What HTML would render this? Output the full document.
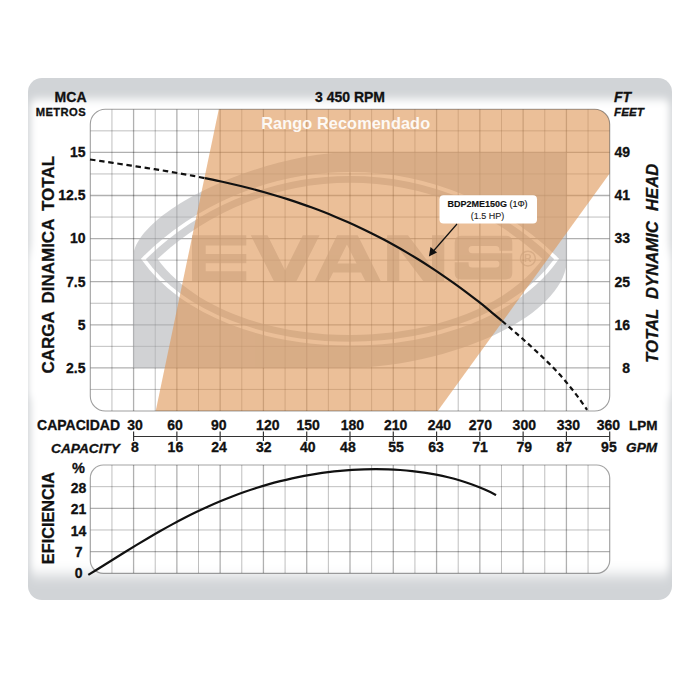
<!DOCTYPE html><html><head><meta charset="utf-8"><style>html,body{margin:0;padding:0;background:#fff;width:700px;height:700px;overflow:hidden}svg{display:block}text{font-family:"Liberation Sans",sans-serif}</style></head><body>
<svg width="700" height="700" viewBox="0 0 700 700">
<defs>
<filter id="glow" x="-10%" y="-20%" width="120%" height="140%"><feGaussianBlur stdDeviation="3.6 4.5"/></filter><filter id="glow2" x="-10%" y="-20%" width="120%" height="140%"><feGaussianBlur stdDeviation="3.6 7"/></filter>
<clipPath id="cp"><rect x="28" y="78" width="644" height="522" rx="14" ry="14"/></clipPath>
<clipPath id="ct"><rect x="90.3" y="109.3" width="519.4" height="301.7" rx="15" ry="15"/></clipPath>
<clipPath id="cb"><rect x="90.3" y="465" width="519.4" height="108.3" rx="13" ry="13"/></clipPath>
</defs>
<rect x="28" y="78" width="644" height="522" rx="14" ry="14" fill="#d1d4d7"/>
<g clip-path="url(#cp)"><rect x="30.5" y="99" width="639" height="300" rx="6" ry="6" fill="#fff" filter="url(#glow)"/><rect x="30.5" y="250" width="639" height="325" rx="6" ry="6" fill="#fff" filter="url(#glow2)"/></g>
<rect x="90.3" y="109.3" width="519.4" height="301.7" rx="15" ry="15" fill="#fff"/>
<g clip-path="url(#ct)">
<mask id="lm" maskUnits="userSpaceOnUse" x="0" y="0" width="700" height="700">
<rect x="0" y="0" width="700" height="700" fill="#fff"/>
<path d="M143.4,259 A293.6,293.6 0 0 1 556.6,259 C476.6,371.7 223.4,371.7 143.4,259 Z" fill="none" stroke="#000" stroke-width="3.8" stroke-linejoin="miter" stroke-miterlimit="20"/>
<path d="M157.5,259 A281.3,281.3 0 0 1 542.5,259 C468,360.3 232,360.3 157.5,259 Z" fill="#000"/>
</mask>
<g><line x1="111.94" y1="109.3" x2="111.94" y2="411" stroke="#000" stroke-opacity="0.25" stroke-width="1"/><line x1="133.58" y1="109.3" x2="133.58" y2="411" stroke="#000" stroke-opacity="0.31" stroke-width="1.3"/><line x1="155.23" y1="109.3" x2="155.23" y2="411" stroke="#000" stroke-opacity="0.25" stroke-width="1"/><line x1="176.87" y1="109.3" x2="176.87" y2="411" stroke="#000" stroke-opacity="0.31" stroke-width="1.3"/><line x1="198.51" y1="109.3" x2="198.51" y2="411" stroke="#000" stroke-opacity="0.25" stroke-width="1"/><line x1="220.15" y1="109.3" x2="220.15" y2="411" stroke="#000" stroke-opacity="0.31" stroke-width="1.3"/><line x1="241.79" y1="109.3" x2="241.79" y2="411" stroke="#000" stroke-opacity="0.25" stroke-width="1"/><line x1="263.43" y1="109.3" x2="263.43" y2="411" stroke="#000" stroke-opacity="0.31" stroke-width="1.3"/><line x1="285.08" y1="109.3" x2="285.08" y2="411" stroke="#000" stroke-opacity="0.25" stroke-width="1"/><line x1="306.72" y1="109.3" x2="306.72" y2="411" stroke="#000" stroke-opacity="0.31" stroke-width="1.3"/><line x1="328.36" y1="109.3" x2="328.36" y2="411" stroke="#000" stroke-opacity="0.25" stroke-width="1"/><line x1="350" y1="109.3" x2="350" y2="411" stroke="#000" stroke-opacity="0.31" stroke-width="1.3"/><line x1="371.64" y1="109.3" x2="371.64" y2="411" stroke="#000" stroke-opacity="0.25" stroke-width="1"/><line x1="393.28" y1="109.3" x2="393.28" y2="411" stroke="#000" stroke-opacity="0.31" stroke-width="1.3"/><line x1="414.93" y1="109.3" x2="414.93" y2="411" stroke="#000" stroke-opacity="0.25" stroke-width="1"/><line x1="436.57" y1="109.3" x2="436.57" y2="411" stroke="#000" stroke-opacity="0.31" stroke-width="1.3"/><line x1="458.21" y1="109.3" x2="458.21" y2="411" stroke="#000" stroke-opacity="0.25" stroke-width="1"/><line x1="479.85" y1="109.3" x2="479.85" y2="411" stroke="#000" stroke-opacity="0.31" stroke-width="1.3"/><line x1="501.49" y1="109.3" x2="501.49" y2="411" stroke="#000" stroke-opacity="0.25" stroke-width="1"/><line x1="523.13" y1="109.3" x2="523.13" y2="411" stroke="#000" stroke-opacity="0.31" stroke-width="1.3"/><line x1="544.78" y1="109.3" x2="544.78" y2="411" stroke="#000" stroke-opacity="0.25" stroke-width="1"/><line x1="566.42" y1="109.3" x2="566.42" y2="411" stroke="#000" stroke-opacity="0.31" stroke-width="1.3"/><line x1="588.06" y1="109.3" x2="588.06" y2="411" stroke="#000" stroke-opacity="0.25" stroke-width="1"/><line x1="90.3" y1="389.45" x2="609.7" y2="389.45" stroke="#000" stroke-opacity="0.25" stroke-width="1"/><line x1="90.3" y1="367.9" x2="609.7" y2="367.9" stroke="#000" stroke-opacity="0.31" stroke-width="1.3"/><line x1="90.3" y1="346.35" x2="609.7" y2="346.35" stroke="#000" stroke-opacity="0.25" stroke-width="1"/><line x1="90.3" y1="324.8" x2="609.7" y2="324.8" stroke="#000" stroke-opacity="0.31" stroke-width="1.3"/><line x1="90.3" y1="303.25" x2="609.7" y2="303.25" stroke="#000" stroke-opacity="0.25" stroke-width="1"/><line x1="90.3" y1="281.7" x2="609.7" y2="281.7" stroke="#000" stroke-opacity="0.31" stroke-width="1.3"/><line x1="90.3" y1="260.15" x2="609.7" y2="260.15" stroke="#000" stroke-opacity="0.25" stroke-width="1"/><line x1="90.3" y1="238.6" x2="609.7" y2="238.6" stroke="#000" stroke-opacity="0.31" stroke-width="1.3"/><line x1="90.3" y1="217.05" x2="609.7" y2="217.05" stroke="#000" stroke-opacity="0.25" stroke-width="1"/><line x1="90.3" y1="195.5" x2="609.7" y2="195.5" stroke="#000" stroke-opacity="0.31" stroke-width="1.3"/><line x1="90.3" y1="173.95" x2="609.7" y2="173.95" stroke="#000" stroke-opacity="0.25" stroke-width="1"/><line x1="90.3" y1="152.4" x2="609.7" y2="152.4" stroke="#000" stroke-opacity="0.31" stroke-width="1.3"/><line x1="90.3" y1="130.85" x2="609.7" y2="130.85" stroke="#000" stroke-opacity="0.25" stroke-width="1"/></g>
<g opacity="0.6">
<path d="M133,368 L133,258 C133,213 260,152 355,152 L567,152 L567,258 C567,318 445,368 345,368 Z" fill="rgb(178,180,183)" mask="url(#lm)"/>
<path fill="rgb(178,180,183)" fill-rule="evenodd" d="M192,235.3 H246.3 V245.6 H205.7 V254 H246.3 V263.3 H205.7 V271.3 H246.3 V281.3 H192 Z
M250.8,235.3 H267.5 L285.15,270.5 L302.8,235.3 H319.6 L296.4,281.3 H273.9 Z
M337.1,235.3 H357.7 L380.8,281.3 H365.4 L361,272.6 H333.1 L328.8,281.3 H314.6 Z M346.9,244.4 L356.5,263.6 H337.5 Z
M387.1,235.3 H408 L432,267 V235.3 H444.3 V281.3 H423.4 L399.3,249.5 V281.3 H387.1 Z
M461.2,235.7 H505.8 Q512.3,235.7 512.3,242.2 V272.9 Q512.3,279.4 505.8,279.4 H461.2 Q454.7,279.4 454.7,272.9 V242.2 Q454.7,235.7 461.2,235.7 Z M472.2,246 H495.8 Q499.4,246 499.4,249.6 V250.8 H512.3 V253.2 H472.2 Q468.6,253.2 468.6,249.6 Q468.6,246 472.2,246 Z M454.7,260.4 H495.8 Q499.4,260.4 499.4,264 Q499.4,267.6 495.8,267.6 H472.2 Q468.6,267.6 468.6,264 V262.2 H454.7 Z"/>
<circle cx="527.9" cy="258.6" r="7.4" fill="none" stroke="rgb(178,180,183)" stroke-width="1.4"/>
<text x="527.9" y="262.4" text-anchor="middle" font-size="10.5" font-weight="bold" fill="rgb(178,180,183)">R</text>
</g>
<path d="M219,108.3 L610.7,108.3 L610.7,172 L437,412 L155.5,412 Z" fill="rgb(222,148,83)" fill-opacity="0.6"/>
</g>
<rect x="90.3" y="109.3" width="519.4" height="301.7" rx="15" ry="15" fill="none" stroke="#000" stroke-opacity="0.38" stroke-width="1.1"/>
<path d="M90,159.47 C91.92,159.76 97.67,160.62 101.5,161.19 C105.33,161.76 109.17,162.33 113,162.89 C116.83,163.46 120.67,164.03 124.5,164.6 C128.33,165.17 132.17,165.74 136,166.33 C139.83,166.91 143.67,167.5 147.5,168.1 C151.33,168.69 155.17,169.3 159,169.92 C162.83,170.54 166.67,171.17 170.5,171.82 C174.33,172.47 178.17,173.13 182,173.82 C185.83,174.5 189.67,175.2 193.5,175.92 C197.33,176.64 203.08,177.78 205,178.15" fill="none" stroke="#111" stroke-width="2.2" stroke-dasharray="5.5,3.7"/>
<path d="M205,178.15 C206.98,178.56 212.92,179.76 216.88,180.6 C220.85,181.45 224.81,182.32 228.77,183.22 C232.73,184.13 236.69,185.06 240.65,186.03 C244.61,187 248.57,188 252.54,189.03 C256.5,190.07 260.46,191.14 264.42,192.26 C268.38,193.37 272.34,194.52 276.3,195.71 C280.27,196.9 284.23,198.13 288.19,199.4 C292.15,200.68 296.11,201.99 300.07,203.36 C304.03,204.72 307.99,206.13 311.96,207.58 C315.92,209.04 319.88,210.54 323.84,212.09 C327.8,213.65 331.76,215.25 335.72,216.9 C339.69,218.55 343.65,220.26 347.61,222.01 C351.57,223.77 355.53,225.58 359.49,227.45 C363.45,229.32 367.41,231.24 371.38,233.22 C375.34,235.19 379.3,237.23 383.26,239.32 C387.22,241.42 391.18,243.57 395.14,245.78 C399.11,247.99 403.07,250.26 407.03,252.6 C410.99,254.93 414.95,257.32 418.91,259.78 C422.87,262.24 426.83,264.76 430.8,267.34 C434.76,269.92 438.72,272.57 442.68,275.29 C446.64,278 450.6,280.78 454.56,283.62 C458.53,286.47 462.49,289.38 466.45,292.35 C470.41,295.33 474.37,298.38 478.33,301.49 C482.29,304.61 486.25,307.79 490.22,311.04 C494.18,314.29 500.12,319.34 502.1,321" fill="none" stroke="#111" stroke-width="2.2"/>
<path d="M502.1,321 C503.39,322.12 507.25,325.46 509.83,327.7 C512.4,329.93 514.98,332.14 517.55,334.4 C520.13,336.65 522.71,338.9 525.28,341.2 C527.86,343.51 530.43,345.85 533.01,348.22 C535.58,350.59 538.16,352.97 540.74,355.41 C543.31,357.85 545.89,360.29 548.46,362.86 C551.04,365.43 553.62,368.07 556.19,370.82 C558.77,373.58 561.34,376.43 563.92,379.41 C566.49,382.4 569.07,385.49 571.65,388.73 C574.22,391.97 576.8,395.33 579.37,398.87 C581.95,402.4 585.81,408.09 587.1,409.94" fill="none" stroke="#111" stroke-width="2.2" stroke-dasharray="5,3.6"/>
<rect x="439.5" y="195.2" width="97.5" height="28.4" rx="4" ry="4" fill="#fff"/>
<text x="487.5" y="207" text-anchor="middle" font-size="9" fill="#111" stroke="#111" stroke-width="0.15"><tspan font-weight="bold">BDP2ME150G</tspan> (1Φ)</text>
<text x="487.5" y="218.5" text-anchor="middle" font-size="9" fill="#222" stroke="#222" stroke-width="0.1">(1.5 HP)</text>
<line x1="457" y1="224" x2="433" y2="251.5" stroke="#111" stroke-width="1.2"/>
<path d="M428.9,256.5 L430.5,247 L437,252.5 Z" fill="#111"/>
<rect x="90.3" y="465" width="519.4" height="108.3" rx="13" ry="13" fill="#fff" fill-opacity="0.7"/>
<g clip-path="url(#cb)"><line x1="111.94" y1="465" x2="111.94" y2="573.3" stroke="#000" stroke-opacity="0.25" stroke-width="1"/><line x1="133.58" y1="465" x2="133.58" y2="573.3" stroke="#000" stroke-opacity="0.31" stroke-width="1.3"/><line x1="155.23" y1="465" x2="155.23" y2="573.3" stroke="#000" stroke-opacity="0.25" stroke-width="1"/><line x1="176.87" y1="465" x2="176.87" y2="573.3" stroke="#000" stroke-opacity="0.31" stroke-width="1.3"/><line x1="198.51" y1="465" x2="198.51" y2="573.3" stroke="#000" stroke-opacity="0.25" stroke-width="1"/><line x1="220.15" y1="465" x2="220.15" y2="573.3" stroke="#000" stroke-opacity="0.31" stroke-width="1.3"/><line x1="241.79" y1="465" x2="241.79" y2="573.3" stroke="#000" stroke-opacity="0.25" stroke-width="1"/><line x1="263.43" y1="465" x2="263.43" y2="573.3" stroke="#000" stroke-opacity="0.31" stroke-width="1.3"/><line x1="285.08" y1="465" x2="285.08" y2="573.3" stroke="#000" stroke-opacity="0.25" stroke-width="1"/><line x1="306.72" y1="465" x2="306.72" y2="573.3" stroke="#000" stroke-opacity="0.31" stroke-width="1.3"/><line x1="328.36" y1="465" x2="328.36" y2="573.3" stroke="#000" stroke-opacity="0.25" stroke-width="1"/><line x1="350" y1="465" x2="350" y2="573.3" stroke="#000" stroke-opacity="0.31" stroke-width="1.3"/><line x1="371.64" y1="465" x2="371.64" y2="573.3" stroke="#000" stroke-opacity="0.25" stroke-width="1"/><line x1="393.28" y1="465" x2="393.28" y2="573.3" stroke="#000" stroke-opacity="0.31" stroke-width="1.3"/><line x1="414.93" y1="465" x2="414.93" y2="573.3" stroke="#000" stroke-opacity="0.25" stroke-width="1"/><line x1="436.57" y1="465" x2="436.57" y2="573.3" stroke="#000" stroke-opacity="0.31" stroke-width="1.3"/><line x1="458.21" y1="465" x2="458.21" y2="573.3" stroke="#000" stroke-opacity="0.25" stroke-width="1"/><line x1="479.85" y1="465" x2="479.85" y2="573.3" stroke="#000" stroke-opacity="0.31" stroke-width="1.3"/><line x1="501.49" y1="465" x2="501.49" y2="573.3" stroke="#000" stroke-opacity="0.25" stroke-width="1"/><line x1="523.13" y1="465" x2="523.13" y2="573.3" stroke="#000" stroke-opacity="0.31" stroke-width="1.3"/><line x1="544.78" y1="465" x2="544.78" y2="573.3" stroke="#000" stroke-opacity="0.25" stroke-width="1"/><line x1="566.42" y1="465" x2="566.42" y2="573.3" stroke="#000" stroke-opacity="0.31" stroke-width="1.3"/><line x1="588.06" y1="465" x2="588.06" y2="573.3" stroke="#000" stroke-opacity="0.25" stroke-width="1"/><line x1="90.3" y1="551.64" x2="609.7" y2="551.64" stroke="#000" stroke-opacity="0.31" stroke-width="1.3"/><line x1="90.3" y1="529.98" x2="609.7" y2="529.98" stroke="#000" stroke-opacity="0.25" stroke-width="1"/><line x1="90.3" y1="508.32" x2="609.7" y2="508.32" stroke="#000" stroke-opacity="0.31" stroke-width="1.3"/><line x1="90.3" y1="486.66" x2="609.7" y2="486.66" stroke="#000" stroke-opacity="0.25" stroke-width="1"/></g>
<rect x="90.3" y="465" width="519.4" height="108.3" rx="13" ry="13" fill="none" stroke="#000" stroke-opacity="0.36" stroke-width="1.2"/>
<path d="M88.3,574.94 C90.3,573.7 96.3,569.97 100.29,567.47 C104.29,564.97 108.29,562.45 112.29,559.95 C116.29,557.45 120.28,554.95 124.28,552.48 C128.28,550.01 132.28,547.54 136.28,545.12 C140.27,542.7 144.27,540.3 148.27,537.95 C152.27,535.6 156.27,533.28 160.26,531.02 C164.26,528.76 168.26,526.54 172.26,524.38 C176.26,522.21 180.25,520.1 184.25,518.05 C188.25,516 192.25,514.01 196.25,512.08 C200.25,510.15 204.24,508.28 208.24,506.48 C212.24,504.68 216.24,502.94 220.24,501.26 C224.23,499.59 228.23,497.99 232.23,496.45 C236.23,494.91 240.23,493.44 244.22,492.03 C248.22,490.63 252.22,489.29 256.22,488.02 C260.22,486.75 264.21,485.54 268.21,484.4 C272.21,483.27 276.21,482.2 280.21,481.19 C284.2,480.18 288.2,479.24 292.2,478.36 C296.2,477.48 300.2,476.67 304.19,475.92 C308.19,475.17 312.19,474.48 316.19,473.86 C320.19,473.23 324.18,472.67 328.18,472.17 C332.18,471.67 336.18,471.23 340.18,470.85 C344.17,470.47 348.17,470.16 352.17,469.9 C356.17,469.65 360.17,469.46 364.16,469.33 C368.16,469.21 372.16,469.14 376.16,469.15 C380.16,469.15 384.15,469.22 388.15,469.36 C392.15,469.49 396.15,469.7 400.15,469.98 C404.15,470.26 408.14,470.61 412.14,471.05 C416.14,471.48 420.14,471.99 424.14,472.59 C428.13,473.2 432.13,473.88 436.13,474.66 C440.13,475.44 444.13,476.31 448.12,477.3 C452.12,478.28 456.12,479.36 460.12,480.57 C464.12,481.78 468.11,483.09 472.11,484.55 C476.11,486.01 480.11,487.59 484.11,489.33 C488.1,491.07 494.1,494.05 496.1,495" fill="none" stroke="#111" stroke-width="2.2"/>
<text x="86.5" y="101.7" font-size="14" font-weight="bold" font-style="normal" text-anchor="end" fill="#111" stroke="#111" stroke-width="0.3">MCA</text>
<text x="86" y="115.7" font-size="11.2" font-weight="bold" font-style="normal" text-anchor="end" fill="#111" letter-spacing="0.4" stroke="#111" stroke-width="0.3">METROS</text>
<text x="350" y="101.7" font-size="14" font-weight="bold" font-style="normal" text-anchor="middle" fill="#111" stroke="#111" stroke-width="0.3">3 450 RPM</text>
<text x="614" y="101.7" font-size="14" font-weight="bold" font-style="italic" text-anchor="start" fill="#111" stroke="#111" stroke-width="0.3">FT</text>
<text x="614" y="115.7" font-size="11.7" font-weight="bold" font-style="italic" text-anchor="start" fill="#111" stroke="#111" stroke-width="0.3">FEET</text>
<text x="345.7" y="129.2" font-size="16.3" font-weight="bold" font-style="normal" text-anchor="middle" fill="#fff" fill-opacity="0.92" letter-spacing="0.1">Rango Recomendado</text>
<text x="85.5" y="372.7" font-size="14" font-weight="bold" font-style="normal" text-anchor="end" fill="#111" stroke="#111" stroke-width="0.3">2.5</text>
<text x="630" y="372.7" font-size="14" font-weight="bold" font-style="normal" text-anchor="end" fill="#111" stroke="#111" stroke-width="0.3">8</text>
<text x="85.5" y="329.6" font-size="14" font-weight="bold" font-style="normal" text-anchor="end" fill="#111" stroke="#111" stroke-width="0.3">5</text>
<text x="630" y="329.6" font-size="14" font-weight="bold" font-style="normal" text-anchor="end" fill="#111" stroke="#111" stroke-width="0.3">16</text>
<text x="85.5" y="286.5" font-size="14" font-weight="bold" font-style="normal" text-anchor="end" fill="#111" stroke="#111" stroke-width="0.3">7.5</text>
<text x="630" y="286.5" font-size="14" font-weight="bold" font-style="normal" text-anchor="end" fill="#111" stroke="#111" stroke-width="0.3">25</text>
<text x="85.5" y="243.4" font-size="14" font-weight="bold" font-style="normal" text-anchor="end" fill="#111" stroke="#111" stroke-width="0.3">10</text>
<text x="630" y="243.4" font-size="14" font-weight="bold" font-style="normal" text-anchor="end" fill="#111" stroke="#111" stroke-width="0.3">33</text>
<text x="85.5" y="200.3" font-size="14" font-weight="bold" font-style="normal" text-anchor="end" fill="#111" stroke="#111" stroke-width="0.3">12.5</text>
<text x="630" y="200.3" font-size="14" font-weight="bold" font-style="normal" text-anchor="end" fill="#111" stroke="#111" stroke-width="0.3">41</text>
<text x="85.5" y="157.2" font-size="14" font-weight="bold" font-style="normal" text-anchor="end" fill="#111" stroke="#111" stroke-width="0.3">15</text>
<text x="630" y="157.2" font-size="14" font-weight="bold" font-style="normal" text-anchor="end" fill="#111" stroke="#111" stroke-width="0.3">49</text>
<text transform="translate(54.2,264.7) rotate(-90)" font-size="17" font-weight="bold" text-anchor="middle" fill="#111" stroke="#111" stroke-width="0.3" word-spacing="3.5">CARGA DINAMICA TOTAL</text>
<text transform="translate(658,263.3) rotate(-90)" font-size="16.7" font-weight="bold" font-style="italic" text-anchor="middle" fill="#111" stroke="#111" stroke-width="0.3" word-spacing="5.5">TOTAL DYNAMIC HEAD</text>
<text transform="translate(53.5,518) rotate(-90)" font-size="16.3" font-weight="bold" text-anchor="middle" fill="#111" stroke="#111" stroke-width="0.3">EFICIENCIA</text>
<text x="120" y="429.7" font-size="14" font-weight="bold" font-style="normal" text-anchor="end" fill="#111" stroke="#111" stroke-width="0.3">CAPACIDAD</text>
<text x="120" y="452.6" font-size="13.7" font-weight="bold" font-style="italic" text-anchor="end" fill="#111" stroke="#111" stroke-width="0.3">CAPACITY</text>
<line x1="133.3" y1="436.5" x2="609.5" y2="436.5" stroke="#333" stroke-width="1.2"/>
<line x1="133.58" y1="431.5" x2="133.58" y2="441" stroke="#333" stroke-width="1.2"/>
<text x="135" y="429.7" font-size="14" font-weight="bold" font-style="normal" text-anchor="middle" fill="#111" stroke="#111" stroke-width="0.3">30</text>
<text x="135" y="452.3" font-size="14" font-weight="bold" font-style="normal" text-anchor="middle" fill="#111" stroke="#111" stroke-width="0.3">8</text>
<line x1="176.87" y1="431.5" x2="176.87" y2="441" stroke="#333" stroke-width="1.2"/>
<text x="175" y="429.7" font-size="14" font-weight="bold" font-style="normal" text-anchor="middle" fill="#111" stroke="#111" stroke-width="0.3">60</text>
<text x="175.4" y="452.3" font-size="14" font-weight="bold" font-style="normal" text-anchor="middle" fill="#111" stroke="#111" stroke-width="0.3">16</text>
<line x1="220.15" y1="431.5" x2="220.15" y2="441" stroke="#333" stroke-width="1.2"/>
<text x="218.7" y="429.7" font-size="14" font-weight="bold" font-style="normal" text-anchor="middle" fill="#111" stroke="#111" stroke-width="0.3">90</text>
<text x="219.1" y="452.3" font-size="14" font-weight="bold" font-style="normal" text-anchor="middle" fill="#111" stroke="#111" stroke-width="0.3">24</text>
<line x1="263.43" y1="431.5" x2="263.43" y2="441" stroke="#333" stroke-width="1.2"/>
<text x="267.8" y="429.7" font-size="14" font-weight="bold" font-style="normal" text-anchor="middle" fill="#111" stroke="#111" stroke-width="0.3">120</text>
<text x="263.7" y="452.3" font-size="14" font-weight="bold" font-style="normal" text-anchor="middle" fill="#111" stroke="#111" stroke-width="0.3">32</text>
<line x1="306.72" y1="431.5" x2="306.72" y2="441" stroke="#333" stroke-width="1.2"/>
<text x="308.1" y="429.7" font-size="14" font-weight="bold" font-style="normal" text-anchor="middle" fill="#111" stroke="#111" stroke-width="0.3">150</text>
<text x="307.7" y="452.3" font-size="14" font-weight="bold" font-style="normal" text-anchor="middle" fill="#111" stroke="#111" stroke-width="0.3">40</text>
<line x1="350" y1="431.5" x2="350" y2="441" stroke="#333" stroke-width="1.2"/>
<text x="352.4" y="429.7" font-size="14" font-weight="bold" font-style="normal" text-anchor="middle" fill="#111" stroke="#111" stroke-width="0.3">180</text>
<text x="347.9" y="452.3" font-size="14" font-weight="bold" font-style="normal" text-anchor="middle" fill="#111" stroke="#111" stroke-width="0.3">48</text>
<line x1="393.28" y1="431.5" x2="393.28" y2="441" stroke="#333" stroke-width="1.2"/>
<text x="395.7" y="429.7" font-size="14" font-weight="bold" font-style="normal" text-anchor="middle" fill="#111" stroke="#111" stroke-width="0.3">210</text>
<text x="396.1" y="452.3" font-size="14" font-weight="bold" font-style="normal" text-anchor="middle" fill="#111" stroke="#111" stroke-width="0.3">55</text>
<line x1="436.57" y1="431.5" x2="436.57" y2="441" stroke="#333" stroke-width="1.2"/>
<text x="439.4" y="429.7" font-size="14" font-weight="bold" font-style="normal" text-anchor="middle" fill="#111" stroke="#111" stroke-width="0.3">240</text>
<text x="436" y="452.3" font-size="14" font-weight="bold" font-style="normal" text-anchor="middle" fill="#111" stroke="#111" stroke-width="0.3">63</text>
<line x1="479.85" y1="431.5" x2="479.85" y2="441" stroke="#333" stroke-width="1.2"/>
<text x="480.4" y="429.7" font-size="14" font-weight="bold" font-style="normal" text-anchor="middle" fill="#111" stroke="#111" stroke-width="0.3">270</text>
<text x="480.1" y="452.3" font-size="14" font-weight="bold" font-style="normal" text-anchor="middle" fill="#111" stroke="#111" stroke-width="0.3">71</text>
<line x1="523.13" y1="431.5" x2="523.13" y2="441" stroke="#333" stroke-width="1.2"/>
<text x="524.3" y="429.7" font-size="14" font-weight="bold" font-style="normal" text-anchor="middle" fill="#111" stroke="#111" stroke-width="0.3">300</text>
<text x="524.3" y="452.3" font-size="14" font-weight="bold" font-style="normal" text-anchor="middle" fill="#111" stroke="#111" stroke-width="0.3">79</text>
<line x1="566.42" y1="431.5" x2="566.42" y2="441" stroke="#333" stroke-width="1.2"/>
<text x="568.4" y="429.7" font-size="14" font-weight="bold" font-style="normal" text-anchor="middle" fill="#111" stroke="#111" stroke-width="0.3">330</text>
<text x="564.2" y="452.3" font-size="14" font-weight="bold" font-style="normal" text-anchor="middle" fill="#111" stroke="#111" stroke-width="0.3">87</text>
<line x1="609.7" y1="431.5" x2="609.7" y2="441" stroke="#333" stroke-width="1.2"/>
<text x="608.4" y="429.7" font-size="14" font-weight="bold" font-style="normal" text-anchor="middle" fill="#111" stroke="#111" stroke-width="0.3">360</text>
<text x="608.9" y="452.3" font-size="14" font-weight="bold" font-style="normal" text-anchor="middle" fill="#111" stroke="#111" stroke-width="0.3">95</text>
<text x="629" y="429.7" font-size="13.5" font-weight="bold" font-style="normal" text-anchor="start" fill="#111" stroke="#111" stroke-width="0.3">LPM</text>
<text x="626" y="452.3" font-size="13.7" font-weight="bold" font-style="italic" text-anchor="start" fill="#111" stroke="#111" stroke-width="0.3">GPM</text>
<text x="78.4" y="472.6" font-size="14.5" font-weight="bold" font-style="normal" text-anchor="middle" fill="#111" stroke="#111" stroke-width="0.3">%</text>
<text x="78.6" y="493" font-size="14" font-weight="bold" font-style="normal" text-anchor="middle" fill="#111" stroke="#111" stroke-width="0.3">28</text>
<text x="78.6" y="514.2" font-size="14" font-weight="bold" font-style="normal" text-anchor="middle" fill="#111" stroke="#111" stroke-width="0.3">21</text>
<text x="78.6" y="535.7" font-size="14" font-weight="bold" font-style="normal" text-anchor="middle" fill="#111" stroke="#111" stroke-width="0.3">14</text>
<text x="78.6" y="556.6" font-size="14" font-weight="bold" font-style="normal" text-anchor="middle" fill="#111" stroke="#111" stroke-width="0.3">7</text>
<text x="78.6" y="577.8" font-size="14" font-weight="bold" font-style="normal" text-anchor="middle" fill="#111" stroke="#111" stroke-width="0.3">0</text>
</svg></body></html>
